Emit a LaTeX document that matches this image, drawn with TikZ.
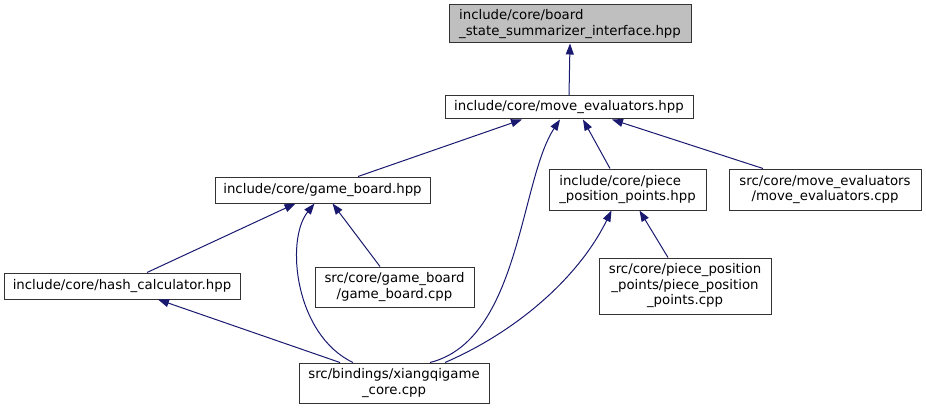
\documentclass[tikz,border=0pt]{standalone}
\usepackage{fontspec}
\setmainfont{DejaVu Sans}
\usetikzlibrary{arrows.meta}
\definecolor{edgeblue}{HTML}{191970}
\definecolor{rootgray}{HTML}{BFBFBF}
\tikzset{
  box/.style={draw=black!80, line width=1pt, fill=white, inner sep=0pt, font=\fontsize{13.3}{15.5}\selectfont},
  edge/.style={draw=edgeblue, line width=1pt, -{Triangle[length=11pt,width=8pt]}},
}
\begin{document}
\begin{tikzpicture}[x=1pt,y=-1pt]
\useasboundingbox (0,0) rectangle (926,409);
\node[box, fill=rootgray, minimum width=242pt, minimum height=38pt, align=left] (bs) at (570,24) {include/core/board\\\_state\_summarizer\_interface.hpp};
\node[box, minimum width=248pt, minimum height=23pt] (me) at (569,107.5) {include/core/move\_evaluators.hpp};
\node[box, minimum width=215pt, minimum height=26pt] (gb) at (322.5,190) {include/core/game\_board.hpp};
\node[box, minimum width=159pt, minimum height=40pt, align=center] (gbc) at (394.5,287) {src/core/game\_board\\/game\_board.cpp};
\node[box, minimum width=157pt, minimum height=41pt, align=left] (pph) at (627.5,189.5) {include/core/piece\\\_position\_points.hpp};
\node[box, minimum width=192pt, minimum height=41pt, align=center] (mec) at (825,189.5) {src/core/move\_evaluators\\/move\_evaluators.cpp};
\node[box, minimum width=172pt, minimum height=56pt, align=center] (ppc) at (685,286) {src/core/piece\_position\\\_points/piece\_position\\\_points.cpp};
\node[box, minimum width=236pt, minimum height=26pt] (hc) at (122,286) {include/core/hash\_calculator.hpp};
\node[box, minimum width=190pt, minimum height=40pt, align=center] (xc) at (394,383) {src/bindings/xiangqigame\\\_core.cpp};

\draw[edge] (me.north) -- (bs.south);
\draw[edge] ([xshift=35.5pt]gb.north) -- ([xshift=-47pt]me.south);
\draw[edge] ([xshift=36pt]xc.north) .. controls (520,340) and (520,180) .. ([xshift=-9pt]me.south);
\draw[edge] ([xshift=-17.5pt]pph.north) -- ([xshift=14pt]me.south);
\draw[edge] ([xshift=-62pt]mec.north) -- ([xshift=43pt]me.south);
\draw[edge] ([xshift=25pt]hc.north) -- ([xshift=-27pt]gb.south);
\draw[edge] ([xshift=-41pt]xc.north) .. controls (295,335) and (285,240) .. ([xshift=-8pt]gb.south);
\draw[edge] ([xshift=-14.5pt]gbc.north) -- ([xshift=10pt]gb.south);
\draw[edge] ([xshift=-54pt]xc.north) -- ([xshift=36pt]hc.south);
\draw[edge] ([xshift=51pt]xc.north) .. controls (520,330) and (580,275) .. ([xshift=-16pt]pph.south);
\draw[edge] ([xshift=-17pt]ppc.north) -- ([xshift=12pt]pph.south);
\end{tikzpicture}
\end{document}
